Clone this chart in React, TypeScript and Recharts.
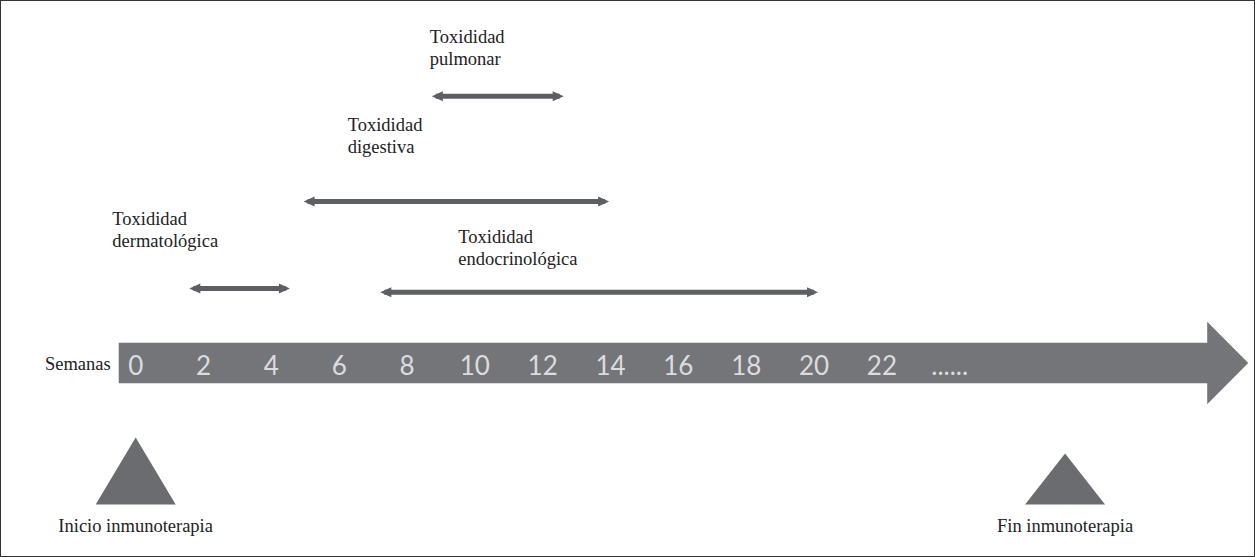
import React from "react";
import { ComposedChart, XAxis, YAxis, Scatter, ReferenceArea, ReferenceDot } from "recharts";

// toxicity windows, in weeks from the start of immunotherapy
const toxicityTitles = [
  ["Toxididad", "pulmonar"],
  ["Toxididad", "digestiva"],
  ["Toxididad", "dermatológica"],
  ["Toxididad", "endocrinológica"],
];
const startWeeks = [8.85, 5.07, 1.7, 7.33];
const endWeeks = [12.5, 13.84, 4.43, 20.0];
const rowLevels = [7.35, 4.45, 2.05, 1.95];

// week axis
const weekTicks = [0, 2, 4, 6, 8, 10, 12, 14, 16, 18, 20, 22, 24];
const weekTickLabels = ["0", "2", "4", "6", "8", "10", "12", "14", "16", "18", "20", "22", "......"];
const axisName = "Semanas";
const axisSpan = [-0.5, 32.8];

// start / end markers
const milestoneNames = ["Inicio inmunoterapia", "Fin inmunoterapia"];
const milestoneWeeks = [0, 27.4];
const milestoneLevel = -3.9;

// styling only
const labelOffsets = [
  { dx: -6, dy: -53 },
  { dx: 40, dy: -70 },
  { dx: -81, dy: -64 },
  { dx: 74, dy: -49 },
];
const triangleSizes = [
  { w: 80, h: 67 },
  { w: 80, h: 51 },
];
const BAR_COLOR = "#5e5f63";
const AXIS_COLOR = "#747579";
const MARK_COLOR = "#6b6c70";
const SERIF = "'Liberation Serif', 'Times New Roman', serif";

const series = toxicityTitles.map((_, i) => [
  { week: startWeeks[i], level: rowLevels[i], side: "start", idx: i },
  { week: endWeeks[i], level: rowLevels[i], side: "end", idx: i },
]);

const BarTip = (props: any) => {
  const { cx, cy, payload } = props;
  if (cx == null || cy == null) return null;
  const dir = payload.side === "start" ? -1 : 1;
  const tip = cx + dir * 4;
  const back = cx - dir * 7;
  const off = labelOffsets[payload.idx];
  return (
    <g>
      <polygon points={`${tip},${cy} ${back},${cy - 5} ${back},${cy + 5}`} fill={BAR_COLOR} />
      {payload.side === "start" && (
        <text x={cx + off.dx} y={cy + off.dy} fontFamily={SERIF} fontSize={18.5} fill="#222">
          {toxicityTitles[payload.idx].map((line, k) => (
            <tspan key={k} x={cx + off.dx} dy={k === 0 ? 0 : 22}>
              {line}
            </tspan>
          ))}
        </text>
      )}
    </g>
  );
};

const WeekTick = (props: any) => {
  const { x, y, payload, index } = props;
  const i = weekTicks.indexOf(payload.value);
  return (
    <text
      key={index}
      x={x}
      y={y}
      dy={10}
      textAnchor="middle"
      fill="#dcdcdc"
      fontFamily="Lato, 'Open Sans', sans-serif"
      fontSize={26}
    >
      {i >= 0 ? weekTickLabels[i] : payload.value}
    </text>
  );
};

const AxisArrow = (props: any) => {
  const { x, y, width, height } = props;
  const head = 41;
  const mid = y + height / 2;
  const bodyEnd = x + width - head;
  const hh = height + 0.5;
  const d = `M${x},${y} L${bodyEnd},${y} L${bodyEnd},${mid - hh} L${x + width},${mid} L${bodyEnd},${mid + hh} L${bodyEnd},${y + height} L${x},${y + height} Z`;
  return <path d={d} fill={AXIS_COLOR} />;
};

const makeMilestone = (i: number) => (props: any) => {
  const { cx, cy } = props;
  const s = triangleSizes[i];
  return (
    <g>
      <polygon
        points={`${cx - s.w / 2},${cy} ${cx},${cy - s.h} ${cx + s.w / 2},${cy}`}
        fill={MARK_COLOR}
      />
      <text x={cx} y={cy + 27} textAnchor="middle" fontFamily={SERIF} fontSize={18.5} fill="#222">
        {milestoneNames[i]}
      </text>
    </g>
  );
};

export default function App() {
  return (
    <div
      style={{
        position: "relative",
        width: 1255,
        height: 557,
        boxSizing: "border-box",
        border: "1px solid #333",
        background: "#fff",
      }}
    >
      <style>{`body{margin:0}`}</style>
      <div style={{ position: "absolute", left: -1, top: -1 }}>
        <ComposedChart width={1255} height={557} margin={{ top: 0, right: 0, bottom: 174, left: 0 }}>
          <ReferenceArea
            x1={axisSpan[0]}
            x2={axisSpan[1]}
            y1={-0.56}
            y2={0.56}
            ifOverflow="visible"
            shape={AxisArrow}
            label={{
              value: axisName,
              position: "left",
              offset: 8,
              fill: "#222",
              fontSize: 18.5,
              fontFamily: SERIF,
            }}
          />
          <XAxis
            type="number"
            dataKey="week"
            domain={[-4, 33]}
            ticks={weekTicks}
            interval={0}
            tickSize={0}
            axisLine={false}
            tickLine={false}
            tick={WeekTick}
            height={20}
          />
          <YAxis type="number" dataKey="level" domain={[0, 10]} hide />
          {series.map((pts, i) => (
            <Scatter
              key={i}
              data={pts}
              line={{ stroke: BAR_COLOR, strokeWidth: 5 }}
              lineType="joint"
              shape={BarTip}
              isAnimationActive={false}
            />
          ))}
          {milestoneWeeks.map((w, i) => (
            <ReferenceDot
              key={i}
              x={w}
              y={milestoneLevel}
              ifOverflow="visible"
              shape={makeMilestone(i)}
            />
          ))}
        </ComposedChart>
      </div>
    </div>
  );
}
